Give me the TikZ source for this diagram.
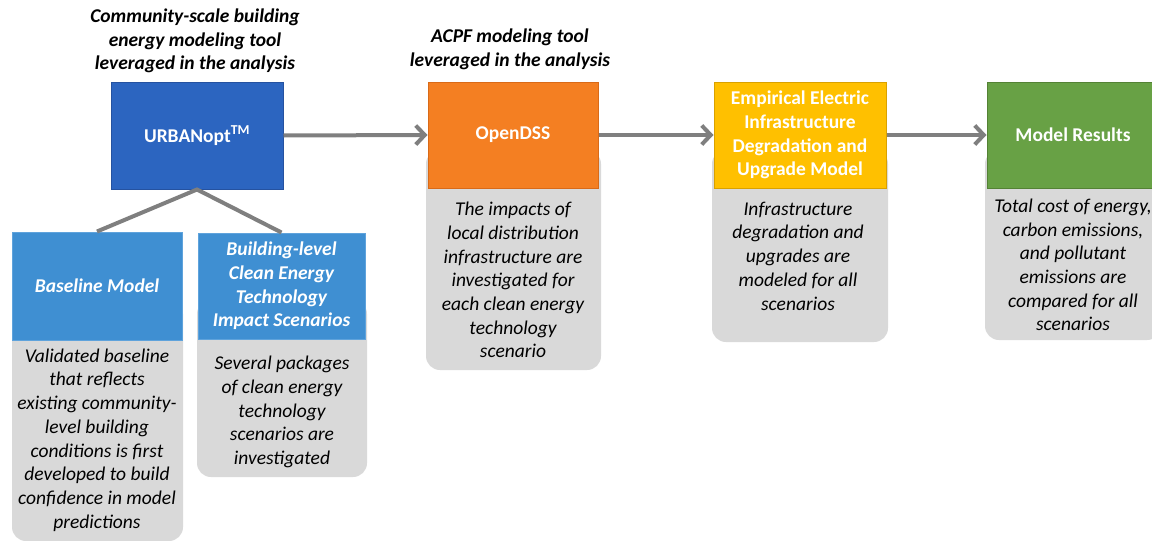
\documentclass[tikz,border=0pt]{standalone}
\usepackage{fontspec}
\setmainfont{Carlito}
\usetikzlibrary{arrows.meta}
\definecolor{urbanblue}{HTML}{2C65C0}
\definecolor{urbanedge}{HTML}{2552A0}
\definecolor{subblue}{HTML}{3F8FD2}
\definecolor{subedge}{HTML}{5FA3DC}
\definecolor{dssorange}{HTML}{F47F22}
\definecolor{dssedge}{HTML}{D96A18}
\definecolor{degyellow}{HTML}{FFC000}
\definecolor{degedge}{HTML}{D9A100}
\definecolor{resgreen}{HTML}{68A145}
\definecolor{resedge}{HTML}{548235}
\definecolor{notegray}{HTML}{D9D9D9}
\definecolor{linkgray}{HTML}{7F7F7F}
\begin{document}
\begin{tikzpicture}[x=1pt,y=-1pt,
  headbox/.style={fill=#1, text=white, align=center, inner sep=0pt,
    font=\bfseries\fontsize{19.5}{23.7}\selectfont},
  notebox/.style={fill=notegray, rounded corners=14pt, inner sep=0pt},
  notetext/.style={align=center, inner sep=0pt,
    font=\itshape\fontsize{19.5}{23.7}\selectfont},
  toptext/.style={align=center, inner sep=0pt,
    font=\bfseries\itshape\fontsize{19.5}{23.7}\selectfont},
  link/.style={draw=linkgray, line width=4pt},
  flow/.style={link, -{Straight Barb[length=9pt,width=19pt]}}]
\path[use as bounding box, clip] (0,0) rectangle (1152,541);

% grey description panels behind the coloured boxes
\node[notebox, minimum width=171pt, minimum height=241pt] (basenote) at (97.5,420.5) {};
\node[notebox, minimum width=170pt, minimum height=177pt] (buildnote) at (282,388.5) {};
\node[notebox, minimum width=175pt, minimum height=220pt] (dssnote) at (513.5,260) {};
\node[notebox, minimum width=176pt, minimum height=192pt] (degnote) at (800,246) {};
\node[notebox, minimum width=176pt, minimum height=190pt] (resnote) at (1073,245) {};

% tool and model boxes
\node[headbox=urbanblue, draw=urbanedge, line width=1pt, minimum width=172pt, minimum height=107pt] (urban) at (197,135.5) {URBANopt\textsuperscript{TM}};
\node[headbox=subblue, draw=subedge, line width=1pt, minimum width=170pt, minimum height=108pt] (base) at (97,286) {\itshape Baseline Model};
\node[headbox=subblue, draw=subedge, line width=1pt, minimum width=167pt, minimum height=106pt] (build) at (281.5,286) {\itshape Building-level\\\itshape Clean Energy\\\itshape Technology\\\itshape Impact Scenarios};
\node[headbox=dssorange, draw=dssedge, line width=1pt, minimum width=170pt, minimum height=106pt] (dss) at (513,135) {OpenDSS};
\node[headbox=degyellow, draw=degedge, line width=1pt, minimum width=172pt, minimum height=106pt] (deg) at (800,135) {Empirical Electric\\Infrastructure\\Degradation and\\Upgrade Model};
\node[headbox=resgreen, draw=resedge, line width=1pt, minimum width=172pt, minimum height=106pt] (res) at (1073,135) {Model Results};

% captions above the tools
\node[toptext] (urbancap) at (195,41) {Community-scale building\\energy modeling tool\\leveraged in the analysis};
\node[toptext] (dsscap) at (510,49.5) {ACPF modeling tool\\leveraged in the analysis};

% panel texts
\node[notetext] (basetxt) at (97,440) {Validated baseline\\that reflects\\existing community-\\level building\\conditions is first\\developed to build\\confidence in model\\predictions};
\node[notetext] (buildtxt) at (282,412) {Several packages\\of clean energy\\technology\\scenarios are\\investigated};
\node[notetext] (dsstxt) at (513,280) {The impacts of\\local distribution\\infrastructure are\\investigated for\\each clean energy\\technology\\scenario};
\node[notetext] (degtxt) at (798,256) {Infrastructure\\degradation and\\upgrades are\\modeled for all\\scenarios};
\node[notetext] (restxt) at (1073,265) {Total cost of energy,\\carbon emissions,\\and pollutant\\emissions are\\compared for all\\scenarios};

% connectors
\draw[link] (base.north) -- (urban.south) -- (build.north);
\draw[flow] (urban.east) -- (dss.west);
\draw[flow] (dss.east) -- (deg.west);
\draw[flow] (deg.east) -- (res.west);
\end{tikzpicture}
\end{document}
